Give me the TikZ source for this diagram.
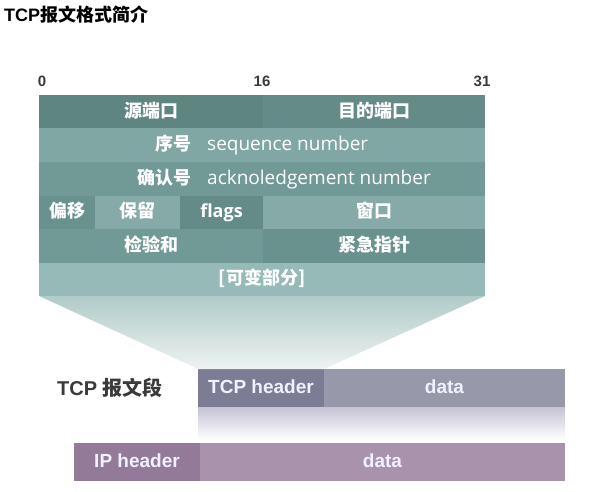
\documentclass[tikz,border=0pt]{standalone}
\usepackage{fontspec}
\setmainfont{Liberation Sans}
\newfontfamily\cjk{Noto Sans CJK SC}
\newfontfamily\lat{Open Sans}
\usetikzlibrary{calc,positioning}
\definecolor{hdrdark}{RGB}{94,133,128}
\definecolor{hdrdarkB}{RGB}{100,139,135}
\definecolor{hdrmid}{RGB}{113,153,149}
\definecolor{hdrmidB}{RGB}{105,145,141}
\definecolor{hdrlight}{RGB}{129,167,164}
\definecolor{hdrpale}{RGB}{134,170,167}
\definecolor{hdropt}{RGB}{150,186,183}
\definecolor{fantop}{RGB}{176,203,200}
\definecolor{fanbot}{RGB}{238,243,242}
\definecolor{tcphead}{RGB}{124,125,148}
\definecolor{tcpbody}{RGB}{151,153,171}
\definecolor{tcpshade}{RGB}{196,194,212}
\definecolor{iphead}{RGB}{146,122,152}
\definecolor{ipbody}{RGB}{168,146,172}
\definecolor{labgray}{RGB}{58,58,58}
\tikzset{
    % table cell of the header layout
    cell/.style={inner sep=0pt, outer sep=0pt, minimum height=33.5pt, text=white,
        text height=14pt, text depth=3pt,
        font=\cjk\bfseries\fontsize{18}{20}\selectfont},
    % latin text inside the table
    engtext/.style={inner sep=0pt, text=white, text height=14pt, text depth=3pt,
        font=\lat\fontsize{19}{21}\selectfont},
    zhtext/.style={inner sep=0pt, text=white, text height=14pt, text depth=3pt,
        font=\cjk\bfseries\fontsize{18}{20}\selectfont},
    % bit numbers above the table
    bitnum/.style={inner sep=0pt, text=labgray, font=\bfseries\fontsize{15}{17}\selectfont},
    % segment boxes at the bottom
    segbox/.style={inner sep=0pt, outer sep=0pt, minimum height=38pt, text=white!94!blue,
        text height=14pt, text depth=3pt, font=\bfseries\fontsize{19}{21}\selectfont},
}
\begin{document}
\begin{tikzpicture}[x=1pt,y=-1pt]
  \useasboundingbox (0,0) rectangle (602,492);
  \node[inner sep=0pt, anchor=west, font=\bfseries\fontsize{18}{20}\selectfont] (title)
    at (4,15) {TCP{\cjk 报文格式简介}};

  % header layout, row by row
  \node[cell, fill=hdrdark, minimum width=224pt, anchor=north west] (src) at (39,95) {源端口};
  \node[cell, fill=hdrdarkB, minimum width=222pt, right=0pt of src] (dst) {目的端口};
  \node[cell, fill=hdrlight, minimum width=446pt, below=0pt of src.south west, anchor=north west] (seq) {};
  \node[cell, fill=hdrmid, minimum width=446pt, below=0pt of seq.south west, anchor=north west] (ack) {};
  \node[cell, fill=hdrmidB, minimum width=56pt, below=0pt of ack.south west, anchor=north west] (off) {偏移};
  \node[cell, fill=hdrpale, minimum width=85pt, right=0pt of off] (res) {保留};
  \node[cell, fill=hdrdarkB, minimum width=83pt, right=0pt of res,
        font=\lat\bfseries\fontsize{18}{20}\selectfont] (flg) {flags};
  \node[cell, fill=hdrpale, minimum width=222pt, right=0pt of flg] (win) {窗口};
  \node[cell, fill=hdrmid, minimum width=224pt, below=0pt of off.south west, anchor=north west] (chk) {检验和};
  \node[cell, fill=hdrmidB, minimum width=222pt, right=0pt of chk] (urg) {紧急指针};
  \node[cell, fill=hdropt, minimum width=446pt, below=0pt of chk.south west, anchor=north west] (opt) {[可变部分]};

  \node[zhtext, anchor=east] (seqzh) at ($(seq.west)+(153,0)$) {序号};
  \node[engtext, right=15pt of seqzh] (seqen) {sequence number};
  \node[zhtext, anchor=east] (ackzh) at ($(ack.west)+(153,0)$) {确认号};
  \node[engtext, right=15pt of ackzh] (acken) {acknoledgement number};

  \node[bitnum, above=8pt of src.north west, xshift=3pt] (b0) {0};
  \node[bitnum, above=8pt of src.north east, xshift=-1pt] (b16) {16};
  \node[bitnum, above=8pt of dst.north east, xshift=-3pt] (b31) {31};

  % tcp segment and ip packet
  \node[segbox, fill=tcphead, minimum width=126pt, anchor=north west] (tcphdr) at (198,369) {TCP header};
  \node[segbox, fill=tcpbody, minimum width=241pt, right=0pt of tcphdr] (tcpdata) {data};
  \node[segbox, fill=iphead, minimum width=126pt, anchor=north west] (iphdr) at (74,443) {IP header};
  \node[segbox, fill=ipbody, minimum width=365pt, right=0pt of iphdr] (ipdata) {data};
  \node[inner sep=0pt, text=labgray, font=\bfseries\fontsize{20}{22}\selectfont,
        left=35pt of tcphdr] (seglab) {TCP {\cjk 报文段}};

  \shade[top color=fantop, bottom color=fanbot]
    (opt.south west) -- (opt.south east) -- (tcphdr.north east) -- (tcphdr.north west) -- cycle;
  \shade[top color=tcpshade, bottom color=white]
    (tcphdr.south west) rectangle ($(tcpdata.south east)+(0,33)$);
\end{tikzpicture}
\end{document}
